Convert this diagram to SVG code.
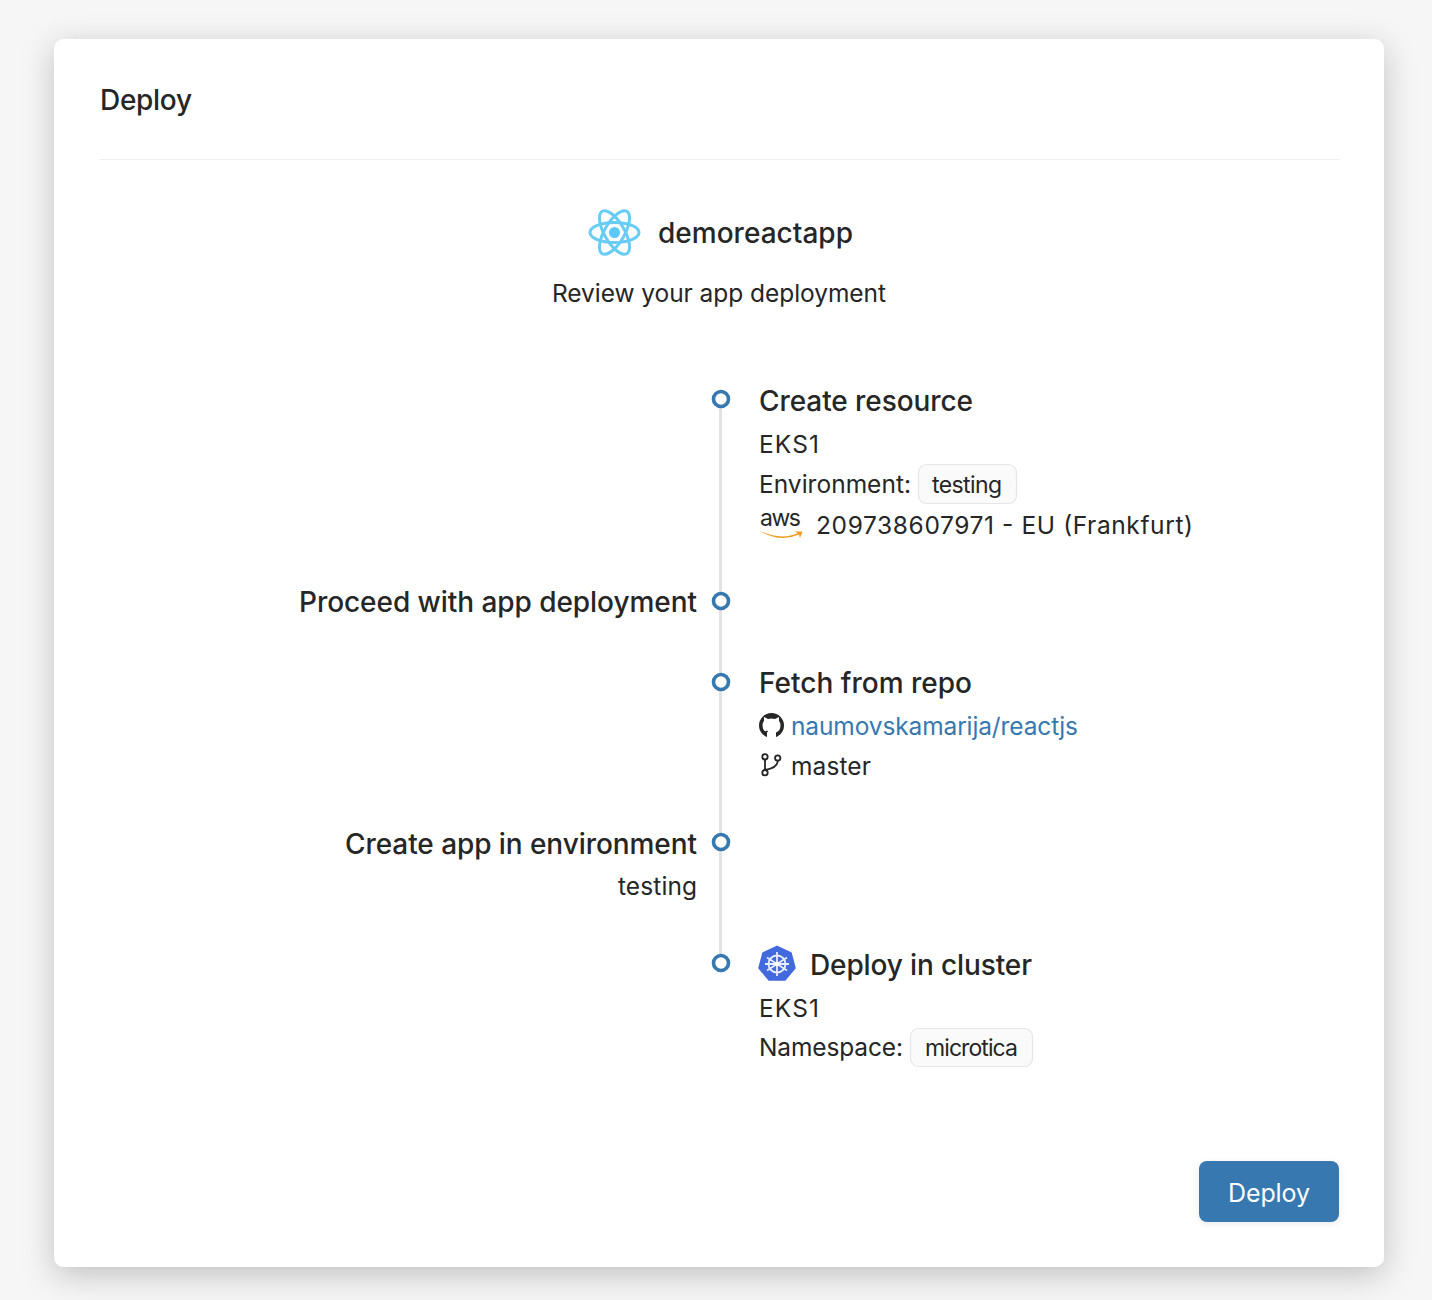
<svg xmlns="http://www.w3.org/2000/svg" width="1432" height="1300" viewBox="0 0 1432 1300">
<style>
text{font-family:Inter,"Liberation Sans",sans-serif;fill:#262626}
.h{font-size:28px;font-weight:500}
.b{font-size:24.5px}
.t{font-size:23px}
.e{text-anchor:end}
.dot{fill:#fff;stroke:#3778b0;stroke-width:3.600}
.tag{fill:#fafafa;stroke:#e6e6e6;stroke-width:1.200}
</style>
<defs>
<filter id="sh" x="-10%" y="-10%" width="120%" height="120%"><feDropShadow dx="0" dy="8" stdDeviation="16" flood-color="#000" flood-opacity=".22"/></filter>
<filter id="bs" x="-10%" y="-10%" width="120%" height="130%"><feDropShadow dx="0" dy="2" stdDeviation="3" flood-color="#000" flood-opacity=".08"/></filter>
</defs>
<rect width="1432" height="1300" fill="#f6f6f6"/>
<rect id="card" x="54" y="39" width="1330" height="1228" rx="10" fill="#fff" filter="url(#sh)"/>
<text x="100" y="110" class="h" textLength="92">Deploy</text>
<rect x="99" y="159" width="1241" height="1" fill="#f0f0f0"/>
<g id="app">
<g fill="none" stroke="#68ccf5" stroke-width="3"><ellipse cx="614.500" cy="232.500" rx="24.500" ry="10"/><ellipse cx="614.500" cy="232.500" rx="24.500" ry="10" transform="rotate(60 614.500 232.500)"/><ellipse cx="614.500" cy="232.500" rx="24.500" ry="10" transform="rotate(120 614.500 232.500)"/></g>
<circle cx="614.500" cy="232.500" r="5.500" fill="#5cc8f5"/>
<text x="658" y="243" class="h" textLength="195">demoreactapp</text>
<text x="552" y="301.500" class="b" textLength="334">Review your app deployment</text>
</g>
<g id="connectors"><rect x="719" y="399" width="3" height="564" fill="#e3e3e3"/></g>
<g id="n1"><circle class="dot" cx="721" cy="399" r="7.500"/>
<text x="759" y="411" class="h" textLength="214">Create resource</text>
<text x="759" y="452.500" class="b" textLength="60">EKS1</text>
<text x="759" y="492.500" class="b" textLength="152">Environment:</text>
<rect class="tag" x="918.500" y="464.500" width="98" height="39" rx="8"/>
<text x="932" y="493" class="t" textLength="70">testing</text>
<text x="760" y="526" class="t" textLength="41">aws</text>
<path d="M759 530.500Q781 541 798 533L794 531.500L802.500 531.500L800 538L799 534.500Q780 543 759 530.500Z" fill="#f29a1f"/>
<text x="816" y="533.500" class="b" textLength="377">209738607971 - EU (Frankfurt)</text>
</g>
<g id="n2"><circle class="dot" cx="721" cy="601" r="7.500"/>
<text x="299" y="612" class="h" textLength="398">Proceed with app deployment</text></g>
<g id="n3"><circle class="dot" cx="721" cy="682" r="7.500"/>
<text x="759" y="693" class="h" textLength="213">Fetch from repo</text>
<circle cx="771.500" cy="725.500" r="12.500" fill="#262626"/>
<path d="M767 738L767 732.500Q762.500 731 762.500 725Q762.500 722.500 764 721L764 717L768 719Q771.500 718 775 719L779 717L779 721Q780.500 722.500 780.500 725Q780.500 731 776 732.500L776 738Z" fill="#fff"/>
<path d="M763 731Q766 733 767.500 731" fill="none" stroke="#262626" stroke-width="1.500"/>
<text x="791" y="735" class="b" style="fill:#3778b0" textLength="287">naumovskamarija/reactjs</text>
<g fill="none" stroke="#262626" stroke-width="1.800"><circle cx="765" cy="756.800" r="2.700"/><circle cx="765" cy="772.700" r="2.700"/><circle cx="777.700" cy="758" r="2.700"/><path d="M765 759.500V770M765 770Q777.700 768 777.700 760.700"/></g>
<text x="791" y="774.500" class="b" textLength="80">master</text></g>
<g id="n4"><circle class="dot" cx="721" cy="842" r="7.500"/>
<text x="345" y="854" class="h" textLength="352">Create app in environment</text>
<text x="618" y="895" class="b" textLength="79">testing</text></g>
<g id="n5"><circle class="dot" cx="721" cy="963" r="7.500"/>
<path d="M777 946.500L791 953L795 968L785 980H769L759 968L763 953Z" fill="#4269dd" stroke="#4269dd" stroke-width="1.500" stroke-linejoin="round"/>
<g fill="none" stroke="#e8edfb" stroke-width="1.800"><circle cx="777" cy="964" r="8.500"/><path d="M777 952V976M767 957.500L787 970.500M787 957.500L767 970.500M765 964H789"/></g>
<circle cx="777" cy="964" r="2" fill="#fff"/>
<text x="810" y="975" class="h" textLength="222">Deploy in cluster</text>
<text x="759" y="1016.500" class="b" textLength="60">EKS1</text>
<text x="759" y="1055.500" class="b" textLength="144">Namespace:</text>
<rect class="tag" x="910.500" y="1028.500" width="122" height="38" rx="8"/>
<text x="925" y="1055.500" class="t" textLength="93">microtica</text></g>
<g id="deploy"><rect x="1199" y="1161" width="140" height="61" rx="8" fill="#3778b0" filter="url(#bs)"/>
<text x="1228" y="1201.500" style="fill:#fff;font-size:25px" textLength="82">Deploy</text></g>
</svg>
